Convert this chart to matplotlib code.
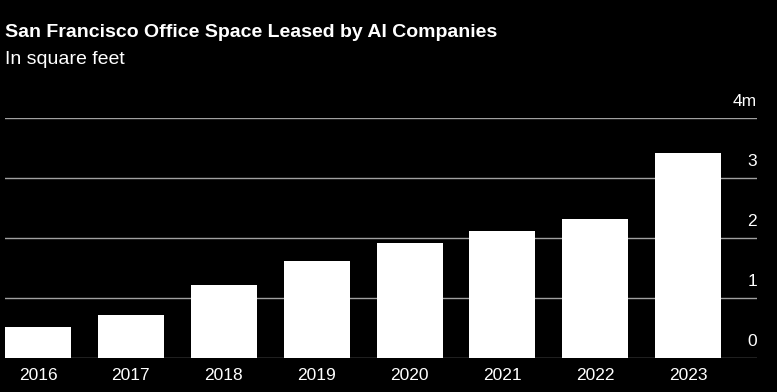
import matplotlib.pyplot as plt

# data (million sq ft)
years = ["2016", "2017", "2018", "2019", "2020", "2021", "2022", "2023"]
leased = [0.52, 0.72, 1.22, 1.62, 1.92, 2.12, 2.32, 3.42]
y_ticks = [0, 1, 2, 3, 4]
y_labels = ["0", "1", "2", "3", "4m"]

plt.rcParams['font.family'] = ['Liberation Sans', 'DejaVu Sans']

fig = plt.figure(figsize=(7.77, 3.92), dpi=100, facecolor="black")
ax = fig.add_axes([5 / 777, 34 / 392, 752 / 777, 240 / 392])
ax.set_facecolor("black")

x = list(range(len(years)))
ax.bar(x, leased, width=0.71, color="white", zorder=1)

# gridlines drawn under the bars
for t in y_ticks:
    ax.axhline(t, color="#a0a0a0", lw=1.0, zorder=0.5)

ax.set_xlim(-0.355, 7.74)
ax.set_ylim(0, 4)
ax.axis("off")

# right-side value labels sitting above each gridline
for t, lab in zip(y_ticks, y_labels):
    ax.annotate(lab, xy=(1, t), xycoords=("axes fraction", "data"),
                xytext=(0, 16), textcoords="offset pixels",
                ha="right", va="center", color="white", fontsize=12.5)

# year labels under the bars
for xi, yr in zip(x, years):
    ax.annotate(yr, xy=(xi, 0), xycoords="data",
                xytext=(0, -17), textcoords="offset pixels",
                ha="center", va="center", color="white", fontsize=12.5)

fig.text(5 / 777, 1 - 37 / 392, "San Francisco Office Space Leased by AI Companies",
         color="white", fontsize=14, fontweight="bold", ha="left", va="baseline")
fig.text(5 / 777, 1 - 64 / 392, "In square feet",
         color="white", fontsize=14, ha="left", va="baseline")

fig.savefig("out.png", dpi=100, facecolor="black")
